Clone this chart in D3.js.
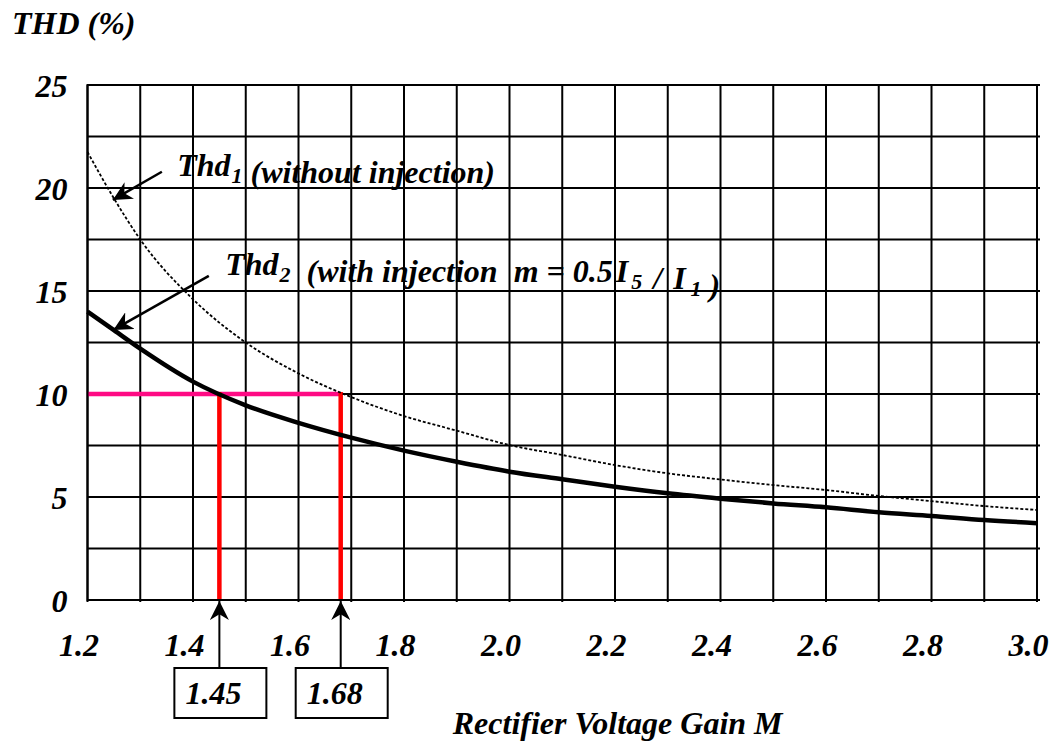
<!DOCTYPE html>
<html>
<head>
<meta charset="utf-8">
<script src="https://cdn.jsdelivr.net/npm/d3@7"></script>
<style>
	body{margin:0;background:#fff;}
	svg text{font-family:"Liberation Serif","Times New Roman",serif;font-weight:bold;font-style:italic;fill:#000;}
</style>
</head>
<body>
<svg id="chart" width="1055" height="746"></svg>
<script>
// values
var gainM = [1.2, 1.25, 1.3, 1.4, 1.5, 1.6, 1.7, 1.8, 1.9, 2.0, 2.1, 2.2, 2.3, 2.4, 2.5, 2.6, 2.7, 2.8, 2.9, 3.0];
var thd1 = [21.75, 19.5, 17.5, 14.6, 12.5, 11.0, 9.85, 8.93, 8.22, 7.52, 7.04, 6.55, 6.15, 5.85, 5.58, 5.34, 5.05, 4.8, 4.56, 4.37];
var thd2 = [14.0, 13.1, 12.2, 10.6, 9.45, 8.6, 7.88, 7.25, 6.71, 6.23, 5.86, 5.5, 5.18, 4.92, 4.69, 4.5, 4.26, 4.08, 3.88, 3.73];
var xTicks = [1.2, 1.4, 1.6, 1.8, 2.0, 2.2, 2.4, 2.6, 2.8, 3.0];
var yTicks = [0, 5, 10, 15, 20, 25];
var xGrid = d3.range(12, 31).map(function(d){ return d / 10; });
var yGrid = d3.range(0, 11).map(function(d){ return d * 2.5; });
var limitThd = 10;
var markGains = [1.45, 1.68];

var margin = {left: 87.5, top: 85, right: 18, bottom: 146};
var W = 1055, H = 746;
var width = W - margin.left - margin.right;
var height = H - margin.top - margin.bottom;
var fs = "32px";

var svg = d3.select("#chart");
var g = svg.append("g").attr("transform", "translate(" + margin.left + "," + margin.top + ")");

var x = d3.scaleLinear().domain([1.2, 3.0]).range([0, width]);
var y = d3.scaleLinear().domain([0, 25]).range([height, 0]);

// grid
g.append("g").selectAll("line").data(xGrid).enter().append("line")
	.attr("x1", function(d){ return x(d); }).attr("x2", function(d){ return x(d); })
	.attr("y1", 0).attr("y2", height + 2)
	.attr("stroke", "#000").attr("stroke-width", 2);
g.append("g").selectAll("line").data(yGrid).enter().append("line")
	.attr("x1", 0).attr("x2", width + 3)
	.attr("y1", function(d){ return y(d); }).attr("y2", function(d){ return y(d); })
	.attr("stroke", "#000").attr("stroke-width", 2);

// tick labels
var xAxis = g.append("g").attr("transform", "translate(0," + height + ")")
	.call(d3.axisBottom(x).tickValues(xTicks).tickSize(0).tickPadding(33).tickFormat(d3.format(".1f")));
var yAxis = g.append("g")
	.call(d3.axisLeft(y).tickValues(yTicks).tickSize(0).tickPadding(20).tickFormat(d3.format("d")));
[xAxis, yAxis].forEach(function(a){
	a.select(".domain").remove();
	a.attr("font-family", null).attr("font-size", null);
	a.selectAll("text").style("font-size", fs);
});
xAxis.selectAll("text").attr("dx", -9);
yAxis.selectAll("text").attr("dy", "0.35em");

// limit lines
g.append("line")
	.attr("x1", x(1.2)).attr("x2", x(markGains[1]))
	.attr("y1", y(limitThd)).attr("y2", y(limitThd))
	.attr("stroke", "#ff0a84").attr("stroke-width", 4.5);
g.append("g").selectAll("line").data(markGains).enter().append("line")
	.attr("x1", function(d){ return x(d); }).attr("x2", function(d){ return x(d); })
	.attr("y1", y(limitThd) - 2).attr("y2", y(0))
	.attr("stroke", "#ff0000").attr("stroke-width", 4.5);

// curves
var line = d3.line().curve(d3.curveMonotoneX)
	.x(function(d){ return x(d[0]); }).y(function(d){ return y(d[1]); });
g.append("path").datum(d3.zip(gainM, thd1))
	.attr("d", line).attr("fill", "none")
	.attr("stroke", "#000").attr("stroke-width", 1.8).attr("stroke-dasharray", "3,2");
g.append("path").datum(d3.zip(gainM, thd2))
	.attr("d", line).attr("fill", "none")
	.attr("stroke", "#000").attr("stroke-width", 4.5);

// border
g.append("rect").attr("width", width).attr("height", height)
	.attr("fill", "none").attr("stroke", "#000").attr("stroke-width", 2);

// arrow marker
svg.append("defs").append("marker")
	.attr("id", "arrow").attr("viewBox", "0 0 10 10")
	.attr("refX", 10).attr("refY", 5)
	.attr("markerWidth", 19).attr("markerHeight", 19)
	.attr("markerUnits", "userSpaceOnUse").attr("orient", "auto")
	.append("path").attr("d", "M0,0 L10,5 L0,10 L3,5 z").attr("fill", "#000");

// legend arrows (tail, tip) in data units
var legendArrows = [[[1.341, 20.79], [1.248, 19.42]], [[1.430, 15.73], [1.249, 13.11]]];
g.append("g").selectAll("line").data(legendArrows).enter().append("line")
	.attr("x1", function(d){ return x(d[0][0]); }).attr("y1", function(d){ return y(d[0][1]); })
	.attr("x2", function(d){ return x(d[1][0]); }).attr("y2", function(d){ return y(d[1][1]); })
	.attr("stroke", "#000").attr("stroke-width", 2.5).attr("marker-end", "url(#arrow)");

// legend labels
function label(parts, px, py){
	var t = g.append("text").attr("x", x(px)).attr("y", y(py))
		.attr("xml:space", "preserve").style("white-space", "pre").style("font-size", fs);
	parts.forEach(function(p){
		if(p.sub){
			t.append("tspan").text(p.sub).attr("dx", p.dx || 0).attr("dy", 7).style("font-size", "22px");
			t.append("tspan").attr("dy", -7).text("");
		}else{
			t.append("tspan").text(p.t).attr("dx", p.dx || 0);
		}
	});
	return t;
}
label([{t: "Thd"}, {sub: "1", dx: 1}, {t: " (without injection)"}], 1.37, 20.6);
label([{t: "Thd"}, {sub: "2", dx: 1}, {t: "  (with injection  m = 0.5"}, {t: "I", dx: 3}, {sub: "5", dx: 3},
	{t: " /", dx: 3}, {t: " I", dx: 3}, {sub: "1", dx: 5}, {t: " )"}], 1.461, 15.8);

// value boxes with arrows
var boxW = 92, boxH = 50, boxTop = height + 68;
var boxes = g.append("g").selectAll("g").data(markGains).enter().append("g")
	.attr("transform", function(d){ return "translate(" + x(d) + ",0)"; });
boxes.append("line").attr("x1", 0).attr("x2", 0)
	.attr("y1", boxTop).attr("y2", height + 1)
	.attr("stroke", "#000").attr("stroke-width", 2).attr("marker-end", "url(#arrow)");
boxes.append("rect").attr("x", -boxW / 2 + 1).attr("y", boxTop)
	.attr("width", boxW).attr("height", boxH)
	.attr("fill", "#fff").attr("stroke", "#000").attr("stroke-width", 2);
boxes.append("text").attr("x", -6).attr("y", boxTop + 36)
	.attr("text-anchor", "middle").style("font-size", fs)
	.text(function(d){ return d3.format(".2f")(d); });

// axis titles
svg.append("text").attr("x", 12).attr("y", 34).style("font-size", fs).text("THD (%)");
svg.append("text").attr("x", margin.left + x(2.205)).attr("y", 734)
	.attr("text-anchor", "middle").style("font-size", fs).text("Rectifier Voltage Gain M");
</script>
</body>
</html>
